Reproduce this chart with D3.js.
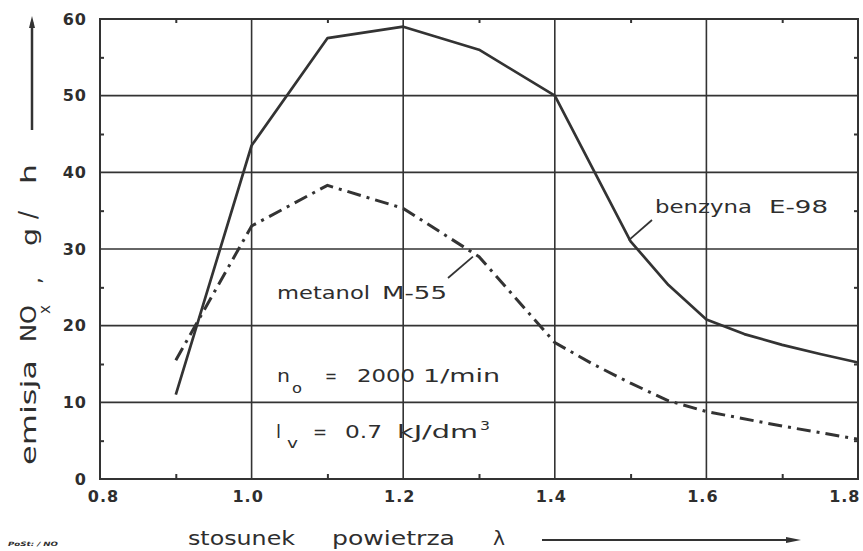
<!DOCTYPE html>
<html>
<head>
<meta charset="utf-8">
<script src="https://cdn.jsdelivr.net/npm/d3@7"></script>
<style>
  body { margin: 0; background: #fff; }
  svg { display: block; }
  text { font-family: "DejaVu Sans", sans-serif; fill: #2e2e2e; }
</style>
</head>
<body>
<svg id="chart" width="863" height="551"></svg>
<script>
// air ratio lambda and NOx emission (g/h)
const benzynaLambda = [0.9, 1.0, 1.1, 1.2, 1.3, 1.4, 1.5, 1.55, 1.6, 1.65, 1.7, 1.75, 1.8];
const benzynaNOx    = [11, 43.5, 57.5, 59, 56, 50, 31, 25.3, 20.8, 18.9, 17.5, 16.3, 15.2];
const metanolLambda = [0.9, 1.0, 1.1, 1.2, 1.3, 1.4, 1.45, 1.5, 1.55, 1.6, 1.7, 1.8];
const metanolNOx    = [15.5, 33, 38.3, 35.3, 29, 17.8, 15, 12.5, 10.2, 8.8, 6.9, 5.2];

const xTicks = [0.8, 1.0, 1.2, 1.4, 1.6, 1.8];
const xMinor = [0.9, 1.1, 1.3, 1.5, 1.7];
const yTicks = [0, 10, 20, 30, 40, 50, 60];
const yMinor = [5, 15, 25, 35, 45, 55];

const svg = d3.select("#chart");
const ink = "#333";

const x = d3.scaleLinear().domain([0.8, 1.8]).range([100, 858]);
const y = d3.scaleLinear().domain([0, 60]).range([479, 19]);

// grid lines
const grid = svg.append("g").attr("stroke", ink).attr("stroke-width", 1.6);
grid.selectAll("line.v").data(xTicks.slice(1, -1)).enter().append("line")
  .attr("class", "v")
  .attr("x1", d => x(d)).attr("x2", d => x(d))
  .attr("y1", y(60)).attr("y2", y(0));
grid.selectAll("line.h").data(yTicks.slice(1, -1)).enter().append("line")
  .attr("class", "h")
  .attr("x1", x(0.8)).attr("x2", x(1.8))
  .attr("y1", d => y(d)).attr("y2", d => y(d));

// frame
svg.append("rect")
  .attr("x", x(0.8)).attr("y", y(60))
  .attr("width", x(1.8) - x(0.8)).attr("height", y(0) - y(60))
  .attr("fill", "none").attr("stroke", ink).attr("stroke-width", 2);

// minor ticks on all four sides, pointing inward
const minor = (axis, tr) => {
  const g = svg.append("g").attr("transform", tr).call(axis);
  g.select(".domain").remove();
  g.selectAll("text").remove();
  g.selectAll("line").attr("stroke", ink).attr("stroke-width", 2);
};
minor(d3.axisBottom(x).tickValues(xMinor).tickSize(-5), `translate(0,${y(0)})`);
minor(d3.axisTop(x).tickValues(xMinor).tickSize(-4), `translate(0,${y(60)})`);
minor(d3.axisLeft(y).tickValues(yMinor).tickSize(-4), `translate(${x(0.8)},0)`);
minor(d3.axisRight(y).tickValues(yMinor).tickSize(-4), `translate(${x(1.8)},0)`);

// tick labels
const xAxis = svg.append("g").attr("transform", `translate(0,${y(0)})`)
  .call(d3.axisBottom(x).tickValues(xTicks).tickFormat(d3.format(".1f")).tickSize(0).tickPadding(12));
const yAxis = svg.append("g").attr("transform", `translate(${x(0.8)},0)`)
  .call(d3.axisLeft(y).tickValues(yTicks).tickSize(0).tickPadding(13));
[xAxis, yAxis].forEach(g => {
  g.select(".domain").remove();
  g.selectAll("text")
    .style("font-family", "'DejaVu Sans', sans-serif")
    .style("font-size", "16px").style("font-weight", "bold")
    .style("letter-spacing", "1px").attr("fill", "#2e2e2e");
});
// the printed labels sit a little left of their grid lines
xAxis.selectAll("text").attr("dx", d => d === 0.8 ? 3 : -4);
xAxis.selectAll("text").filter(d => d === 1.8)
  .attr("text-anchor", "end").attr("dx", 0).attr("x", 2);

// curves
const line = d3.line().x(d => x(d[0])).y(d => y(d[1]));
svg.append("path")
  .datum(benzynaLambda.map((l, i) => [l, benzynaNOx[i]]))
  .attr("d", line).attr("fill", "none")
  .attr("stroke", ink).attr("stroke-width", 2.7).attr("stroke-linejoin", "round");
svg.append("path")
  .datum(metanolLambda.map((l, i) => [l, metanolNOx[i]]))
  .attr("d", line).attr("fill", "none")
  .attr("stroke", ink).attr("stroke-width", 3)
  .attr("stroke-dasharray", "14,6,3,6");

// words stretched to the width they have in the printed figure
const word = (tx, ty, str, size, w) => {
  const t = svg.append("text").attr("x", tx).attr("y", ty)
    .style("font-size", size + "px").text(str);
  if (w) t.attr("textLength", w).attr("lengthAdjust", "spacingAndGlyphs");
  return t;
};

word(655, 213, "benzyna", 18, 97);
word(769, 213, "E-98", 18, 59);
svg.append("line").attr("x1", x(1.5) - 2).attr("y1", y(31) - 1).attr("x2", 652).attr("y2", 220)
  .attr("stroke", ink).attr("stroke-width", 1.8);

word(277, 299, "metanol", 18, 93);
word(382, 299, "M-55", 18, 65);
svg.append("line").attr("x1", 448).attr("y1", 278).attr("x2", x(1.292)).attr("y2", y(29))
  .attr("stroke", ink).attr("stroke-width", 1.8);

word(277, 382, "n", 18, 13);
word(292, 393, "o", 14, 10);
word(325, 382, "=", 18, 12);
word(357, 382, "2000", 18, 58);
word(423, 382, "1/min", 18, 77);

word(276, 438, "l", 18);
word(287, 448, "v", 14, 11);
word(313, 438, "=", 18, 14);
word(345, 438, "0.7", 18, 37);
word(397, 438, "kJ/dm", 18, 81);
word(480, 430, "3", 13, 10);

// y axis title, rotated pieces
const vword = (cx, cy, str, size, len) => {
  const t = svg.append("text")
    .attr("transform", `translate(${cx},${cy}) rotate(-90)`)
    .style("font-size", size + "px").text(str);
  if (len) t.attr("textLength", len).attr("lengthAdjust", "spacingAndGlyphs");
  return t;
};
vword(36, 465, "emisja", 22, 105);
vword(36, 342, "NO", 22, 37);
vword(50, 314, "x", 16, 9);
vword(41, 284, ",", 22);
vword(37, 246, "g", 22, 18);
vword(36, 219, "/", 24);
vword(36, 184, "h", 22, 20);
svg.append("line").attr("x1", 32).attr("x2", 32).attr("y1", 130).attr("y2", 22)
  .attr("stroke", ink).attr("stroke-width", 2.5);
svg.append("path").attr("d", "M29,28 L32,16 L35,28 Z").attr("fill", ink);

// x axis title with arrow
word(188, 545, "stosunek", 19, 107);
word(332, 545, "powietrza", 19, 123);
word(493, 545, "λ", 19, 12);
svg.append("line").attr("x1", 542).attr("x2", 792).attr("y1", 540).attr("y2", 540)
  .attr("stroke", ink).attr("stroke-width", 2);
svg.append("path").attr("d", "M786,537 L801,540 L786,543 Z").attr("fill", ink);

// tiny file tag in the corner
svg.append("text").attr("x", 8).attr("y", 546)
  .style("font-size", "6px").style("font-weight", "bold").style("font-style", "italic")
  .attr("textLength", 50).attr("lengthAdjust", "spacingAndGlyphs").text("PoSt: / NO");
</script>
</body>
</html>
